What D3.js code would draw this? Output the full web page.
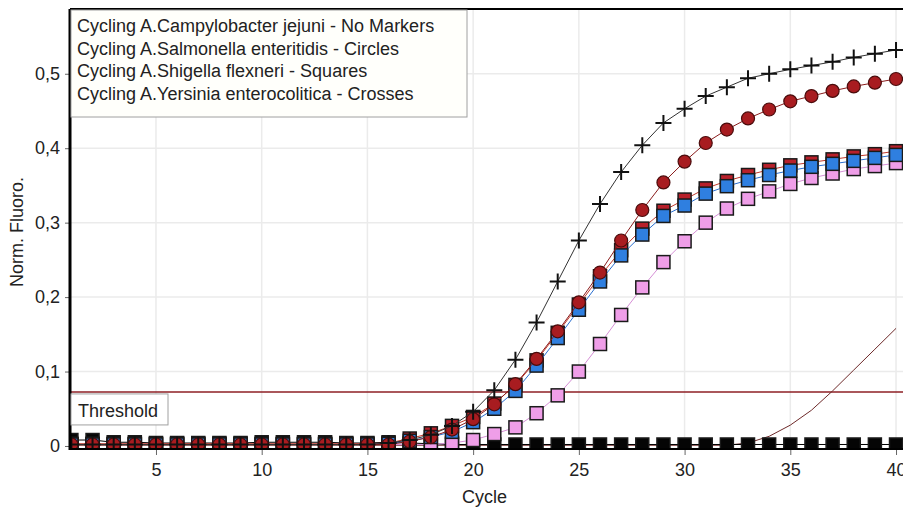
<!DOCTYPE html>
<html>
<head>
<meta charset="utf-8">
<script src="https://cdn.jsdelivr.net/npm/d3@7"></script>
<style>
    body { margin: 0; background: #ffffff; }
    text { font-family: "Liberation Sans", Arial, sans-serif; fill: #222; }
</style>
</head>
<body>
<div id="chart"></div>
<script>
// cycles 1..40
const cycles = d3.range(1, 41);

const xTicks = [5, 10, 15, 20, 25, 30, 35, 40];
const yTicks = [0, 0.1, 0.2, 0.3, 0.4, 0.5];

const legendLabels = [
    "Cycling A.Campylobacter jejuni - No Markers",
    "Cycling A.Salmonella enteritidis - Circles",
    "Cycling A.Shigella flexneri - Squares",
    "Cycling A.Yersinia enterocolitica - Crosses"
];

const thresholdValue = 0.0726;

// Campylobacter jejuni (no markers)
const campylobacter = [0.001, 0.001, 0.001, 0.001, 0.001, 0.001, 0.001, 0.001, 0.001, 0.001,
    0.001, 0.001, 0.001, 0.001, 0.001, 0.001, 0.001, 0.001, 0.001, 0.001,
    0.001, 0.001, 0.001, 0.001, 0.001, 0.001, 0.001, 0.001, 0.001, 0.001,
    0.001, 0.001, 0.004, 0.013, 0.028, 0.048, 0.074, 0.102, 0.130, 0.158];

// Salmonella enteritidis (circles)
const salmonella = [0.002, 0.002, 0.002, 0.002, 0.002, 0.002, 0.002, 0.002, 0.002, 0.002,
    0.002, 0.002, 0.002, 0.002, 0.002, 0.002, 0.006, 0.012, 0.022, 0.036,
    0.056, 0.083, 0.117, 0.154, 0.193, 0.233, 0.276, 0.317, 0.354, 0.382,
    0.407, 0.425, 0.440, 0.452, 0.463, 0.470, 0.477, 0.483, 0.488, 0.493];

// Shigella flexneri (squares) - several samples
const shigellaRed = [0.003, 0.003, 0.003, 0.003, 0.003, 0.003, 0.003, 0.003, 0.003, 0.003,
    0.003, 0.003, 0.003, 0.003, 0.003, 0.004, 0.010, 0.017, 0.027, 0.039,
    0.057, 0.082, 0.115, 0.152, 0.190, 0.228, 0.263, 0.292, 0.316, 0.331,
    0.346, 0.356, 0.364, 0.371, 0.377, 0.381, 0.385, 0.389, 0.392, 0.396];

const shigellaBlue = [0.002, 0.002, 0.002, 0.002, 0.002, 0.002, 0.002, 0.002, 0.002, 0.002,
    0.002, 0.002, 0.002, 0.002, 0.002, 0.003, 0.007, 0.012, 0.019, 0.032,
    0.050, 0.074, 0.108, 0.145, 0.183, 0.221, 0.256, 0.284, 0.309, 0.323,
    0.339, 0.349, 0.357, 0.364, 0.370, 0.375, 0.379, 0.383, 0.387, 0.391];

const shigellaPink = [0.002, 0.002, 0.002, 0.002, 0.002, 0.002, 0.002, 0.002, 0.002, 0.002,
    0.002, 0.002, 0.002, 0.002, 0.002, 0.002, 0.002, 0.002, 0.004, 0.008,
    0.016, 0.025, 0.044, 0.068, 0.100, 0.137, 0.176, 0.213, 0.247, 0.275,
    0.300, 0.319, 0.332, 0.342, 0.352, 0.360, 0.366, 0.372, 0.376, 0.380];

const shigellaNeg = [0.008, 0.008, 0.005, 0.005, 0.004, 0.004, 0.004, 0.004, 0.004, 0.005,
    0.005, 0.005, 0.005, 0.004, 0.004, 0.005, 0.004, 0.003, 0.002, 0.002,
    0.002, 0.002, 0.002, 0.002, 0.002, 0.002, 0.002, 0.002, 0.002, 0.002,
    0.002, 0.002, 0.002, 0.002, 0.002, 0.002, 0.002, 0.002, 0.002, 0.002];

// Yersinia enterocolitica (crosses)
const yersinia = [0.002, 0.002, 0.002, 0.002, 0.002, 0.002, 0.002, 0.002, 0.002, 0.002,
    0.002, 0.002, 0.002, 0.002, 0.002, 0.004, 0.008, 0.015, 0.027, 0.046,
    0.075, 0.116, 0.166, 0.221, 0.276, 0.325, 0.368, 0.404, 0.434, 0.453,
    0.470, 0.482, 0.494, 0.500, 0.506, 0.511, 0.516, 0.522, 0.527, 0.532];

function main() {
    drawChart();
}

function drawChart() {
    const width = 903, height = 508;
    const plot = {left: 70, top: 9, right: 903, bottom: 450};

    const svg = d3.select("#chart")
        .append("svg")
        .attr("width", width)
        .attr("height", height);

    const xScale = d3.scaleLinear()
        .domain([1, 40.33])
        .range([71.4, plot.right]);

    const yScale = d3.scaleLinear()
        .domain([-0.0054, 0.587])
        .range([plot.bottom, plot.top]);

    svg.append("clipPath")
        .attr("id", "plotClip")
        .append("rect")
        .attr("x", plot.left)
        .attr("y", plot.top)
        .attr("width", plot.right - plot.left)
        .attr("height", plot.bottom - plot.top);

    // grid
    svg.append("g")
        .selectAll("line.vgrid")
        .data(xTicks)
        .enter()
        .append("line")
        .attr("x1", d => xScale(d)).attr("x2", d => xScale(d))
        .attr("y1", plot.top).attr("y2", plot.bottom)
        .style("stroke", "#ebebeb").style("stroke-width", 1.5);

    svg.append("g")
        .selectAll("line.hgrid")
        .data(yTicks.slice(1))
        .enter()
        .append("line")
        .attr("x1", plot.left).attr("x2", plot.right)
        .attr("y1", d => yScale(d)).attr("y2", d => yScale(d))
        .style("stroke", "#ebebeb").style("stroke-width", 1.5);

    // axes
    const xAxis = svg.append("g")
        .attr("transform", `translate(0, ${plot.bottom})`)
        .call(d3.axisBottom(xScale).tickValues(xTicks).tickSize(5).tickPadding(8));
    xAxis.select(".domain").remove();
    xAxis.selectAll("text").style("font-size", "18px").style("fill", "#222");

    const yAxis = svg.append("g")
        .attr("transform", `translate(${plot.left}, 0)`)
        .call(d3.axisLeft(yScale).tickValues(yTicks).tickSize(5).tickPadding(5)
            .tickFormat(d => d === 0 ? "0" : d3.format(".1f")(d).replace(".", ",")));
    yAxis.select(".domain").remove();
    yAxis.selectAll("text").style("font-size", "18px").style("fill", "#222");
    yAxis.selectAll("line").style("stroke", "#666");
    xAxis.selectAll("line").style("stroke", "#666");

    svg.append("text")
        .attr("x", 462).attr("y", 503)
        .style("font-size", "18px")
        .text("Cycle");

    svg.append("text")
        .attr("transform", "translate(23, 232) rotate(-90)")
        .attr("text-anchor", "middle")
        .style("font-size", "18px")
        .text("Norm. Fluoro.");

    const g = svg.append("g").attr("clip-path", "url(#plotClip)");

    // threshold
    g.append("line")
        .attr("x1", plot.left).attr("x2", plot.right)
        .attr("y1", yScale(thresholdValue)).attr("y2", yScale(thresholdValue))
        .style("stroke", "#8e1f24").style("stroke-width", 1.5);

    const line = d3.line()
        .x((d, i) => xScale(cycles[i]))
        .y(d => yScale(d));

    function drawLine(values, color, w) {
        g.append("path")
            .datum(values)
            .attr("d", line)
            .style("fill", "none")
            .style("stroke", color)
            .style("stroke-width", w);
    }

    function drawSquares(values, fill, cls) {
        g.selectAll("." + cls)
            .data(values)
            .enter()
            .append("rect")
            .attr("class", cls)
            .attr("x", (d, i) => xScale(cycles[i]) - 6.5)
            .attr("y", d => yScale(d) - 6.5)
            .attr("width", 13)
            .attr("height", 13)
            .style("fill", fill)
            .style("stroke", "#1a1a1a")
            .style("stroke-width", 1.5);
    }

    // campylobacter: line only
    drawLine(campylobacter, "#6e2a2a", 1);

    // negative squares along the baseline
    drawLine(shigellaNeg, "#000", 1);
    drawSquares(shigellaNeg, "#050505", "negSq");

    // pink squares
    drawLine(shigellaPink, "#d68fd6", 1);
    drawSquares(shigellaPink, "#ef9ee8", "pinkSq");

    // red squares behind blue
    drawLine(shigellaRed, "#c0392b", 1);
    drawSquares(shigellaRed, "#b8202a", "redSq");

    // blue squares
    drawLine(shigellaBlue, "#2a6fd0", 1);
    drawSquares(shigellaBlue, "#2f7fe0", "blueSq");

    // salmonella circles
    drawLine(salmonella, "#8a1c1c", 1);
    g.selectAll(".salCircle")
        .data(salmonella)
        .enter()
        .append("circle")
        .attr("class", "salCircle")
        .attr("cx", (d, i) => xScale(cycles[i]))
        .attr("cy", d => yScale(d))
        .attr("r", 6.5)
        .style("fill", "#a81c20")
        .style("stroke", "#4a0c0c")
        .style("stroke-width", 1.2);

    // yersinia crosses
    drawLine(yersinia, "#333", 1);
    g.selectAll(".yerCross")
        .data(yersinia)
        .enter()
        .append("path")
        .attr("class", "yerCross")
        .attr("d", (d, i) => {
            const cx = xScale(cycles[i]), cy = yScale(d);
            return `M${cx - 8},${cy}H${cx + 8}M${cx},${cy - 8}V${cy + 8}`;
        })
        .style("stroke", "#111")
        .style("stroke-width", 2)
        .style("fill", "none");

    // frame: left and top thick, bottom axis line
    svg.append("line")
        .attr("x1", plot.left).attr("x2", plot.left)
        .attr("y1", plot.top).attr("y2", plot.bottom)
        .style("stroke", "#000").style("stroke-width", 3);
    svg.append("line")
        .attr("x1", plot.left).attr("x2", plot.right)
        .attr("y1", plot.top).attr("y2", plot.top)
        .style("stroke", "#000").style("stroke-width", 2);
    svg.append("line")
        .attr("x1", plot.left).attr("x2", plot.right)
        .attr("y1", plot.bottom - 1).attr("y2", plot.bottom - 1)
        .style("stroke", "#000").style("stroke-width", 2);

    // legend box
    const legend = svg.append("g");
    legend.append("rect")
        .attr("x", plot.left + 1).attr("y", plot.top + 1)
        .attr("width", 396).attr("height", 107)
        .style("fill", "#fffffb")
        .style("stroke", "#a0a0a0");
    legend.selectAll("text")
        .data(legendLabels)
        .enter()
        .append("text")
        .attr("x", 77)
        .attr("y", (d, i) => 32 + i * 22.6)
        .style("font-size", "18px")
        .text(d => d);

    // threshold label
    svg.append("rect")
        .attr("x", plot.left + 1).attr("y", yScale(thresholdValue) + 2)
        .attr("width", 97).attr("height", 31)
        .style("fill", "#fff")
        .style("stroke", "#a0a0a0");
    svg.append("text")
        .attr("x", 78).attr("y", yScale(thresholdValue) + 25)
        .style("font-size", "18px")
        .text("Threshold");
}

main();
</script>
</body>
</html>
